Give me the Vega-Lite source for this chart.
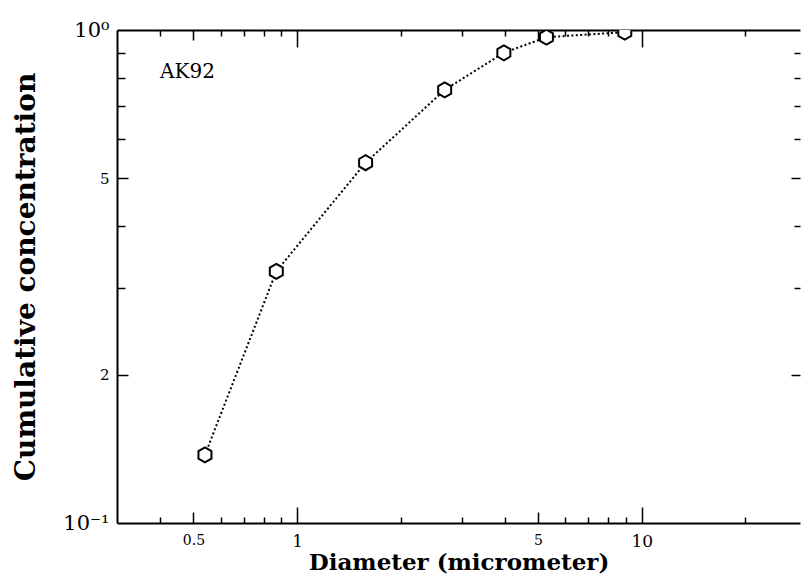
{
  "$schema": "https://vega.github.io/schema/vega-lite/v6.json",
  "width": 683,
  "height": 493,
  "autosize": {"type": "none"},
  "padding": {"left": 117, "top": 30, "right": 1, "bottom": 64},
  "background": "white",
  "config": {
    "view": {"stroke": null},
    "axis": {
      "grid": false,
      "labelFont": "DejaVu Serif",
      "titleFont": "DejaVu Serif",
      "labelColor": "black",
      "titleColor": "black",
      "domainColor": "black",
      "tickColor": "black"
    }
  },
  "data": {
    "values": [
      {"diameter": 0.54, "cumulative": 0.1375},
      {"diameter": 0.87, "cumulative": 0.324},
      {"diameter": 1.58, "cumulative": 0.538},
      {"diameter": 2.68, "cumulative": 0.756},
      {"diameter": 3.98, "cumulative": 0.899},
      {"diameter": 5.29, "cumulative": 0.967},
      {"diameter": 8.93, "cumulative": 0.99}
    ]
  },
  "resolve": {"axis": {"x": "independent", "y": "independent"}},
  "layer": [
    {
      "mark": {"type": "line", "stroke": "black", "strokeWidth": 2, "strokeDash": [2, 2.4], "clip": true},
      "encoding": {
        "x": {
          "field": "diameter",
          "type": "quantitative",
          "scale": {"type": "log", "domain": [0.3, 28.8], "nice": false},
          "axis": {
            "orient": "bottom",
            "values": [0.5, 1, 5, 10],
            "format": "~g",
            "ticks": false,
            "domain": true,
            "domainWidth": 2,
            "labelPadding": 10,
            "labelBaseline": "top",
            "labelFontSize": {"condition": {"test": "datum.value == 1 || datum.value == 10", "value": 17}, "value": 14},
            "labelOverlap": false,
            "labelFlush": false,
            "title": "Diameter (micrometer)",
            "titleFontSize": 23,
            "titleFontWeight": "bold",
            "titlePadding": 2
          }
        },
        "y": {
          "field": "cumulative",
          "type": "quantitative",
          "scale": {"type": "log", "domain": [0.1, 1], "nice": false},
          "axis": {
            "orient": "left",
            "values": [0.1, 0.2, 0.5, 1],
            "labelExpr": "datum.value == 1 ? '10⁰' : datum.value == 0.1 ? '10⁻¹' : datum.value == 0.5 ? '5' : '2'",
            "ticks": false,
            "domain": true,
            "domainWidth": 2,
            "labelPadding": 8,
            "labelFontSize": {"condition": {"test": "datum.value == 1 || datum.value == 0.1", "value": 21}, "value": 15},
            "labelOverlap": false,
            "labelFlush": false,
            "title": "Cumulative concentration",
            "titleFontSize": 28,
            "titleFontWeight": "bold",
            "titlePadding": 22
          }
        }
      }
    },
    {
      "mark": {
        "type": "point",
        "shape": "M0,-1L0.866,-0.5L0.866,0.5L0,1L-0.866,0.5L-0.866,-0.5Z",
        "size": 225,
        "filled": true,
        "fill": "white",
        "stroke": "black",
        "strokeWidth": 2,
        "opacity": 1,
        "clip": true
      },
      "encoding": {
        "x": {
          "field": "diameter",
          "type": "quantitative",
          "scale": {"type": "log", "domain": [0.3, 28.8], "nice": false},
          "axis": {
            "orient": "bottom",
            "values": [0.4, 0.5, 0.6, 0.7, 0.8, 0.9, 1, 2, 3, 4, 5, 6, 7, 8, 9, 10, 20],
            "labels": false,
            "domain": false,
            "title": null,
            "tickWidth": 1.5,
            "tickSize": {"expr": "(datum.value == 1 || datum.value == 10 ? -16 : datum.value == 0.5 || datum.value == 5 ? -11 : -6)"}
          }
        },
        "y": {
          "field": "cumulative",
          "type": "quantitative",
          "scale": {"type": "log", "domain": [0.1, 1], "nice": false},
          "axis": {
            "orient": "left",
            "values": [0.2, 0.3, 0.4, 0.5, 0.6, 0.7, 0.8, 0.9],
            "labels": false,
            "domain": false,
            "title": null,
            "tickWidth": 1.5,
            "tickSize": {"expr": "(datum.value == 0.2 || datum.value == 0.5 ? -11 : -8)"}
          }
        }
      }
    },
    {
      "data": {"values": [{"label": "AK92"}]},
      "mark": {"type": "text", "font": "DejaVu Serif", "fontSize": 20, "align": "left", "baseline": "alphabetic", "color": "black"},
      "encoding": {
        "text": {"field": "label"},
        "x": {
          "datum": 0.4,
          "type": "quantitative",
          "scale": {"type": "log", "domain": [0.3, 28.8], "nice": false},
          "axis": {
            "orient": "top",
            "values": [0.4, 0.5, 0.6, 0.7, 0.8, 0.9, 1, 2, 3, 4, 5, 6, 7, 8, 9, 10, 20],
            "labels": false,
            "domain": true,
            "domainWidth": 2,
            "title": null,
            "tickWidth": 1.5,
            "tickSize": {"expr": "(datum.value == 1 || datum.value == 10 ? -17 : datum.value == 0.5 || datum.value == 5 ? -10 : -6)"}
          }
        },
        "y": {
          "datum": 0.8,
          "type": "quantitative",
          "scale": {"type": "log", "domain": [0.1, 1], "nice": false},
          "axis": {
            "orient": "right",
            "values": [0.2, 0.3, 0.4, 0.5, 0.6, 0.7, 0.8, 0.9],
            "labels": false,
            "domain": false,
            "title": null,
            "tickWidth": 1.5,
            "tickSize": {"expr": "(datum.value == 0.2 || datum.value == 0.5 ? -9 : -6)"}
          }
        }
      }
    }
  ]
}
